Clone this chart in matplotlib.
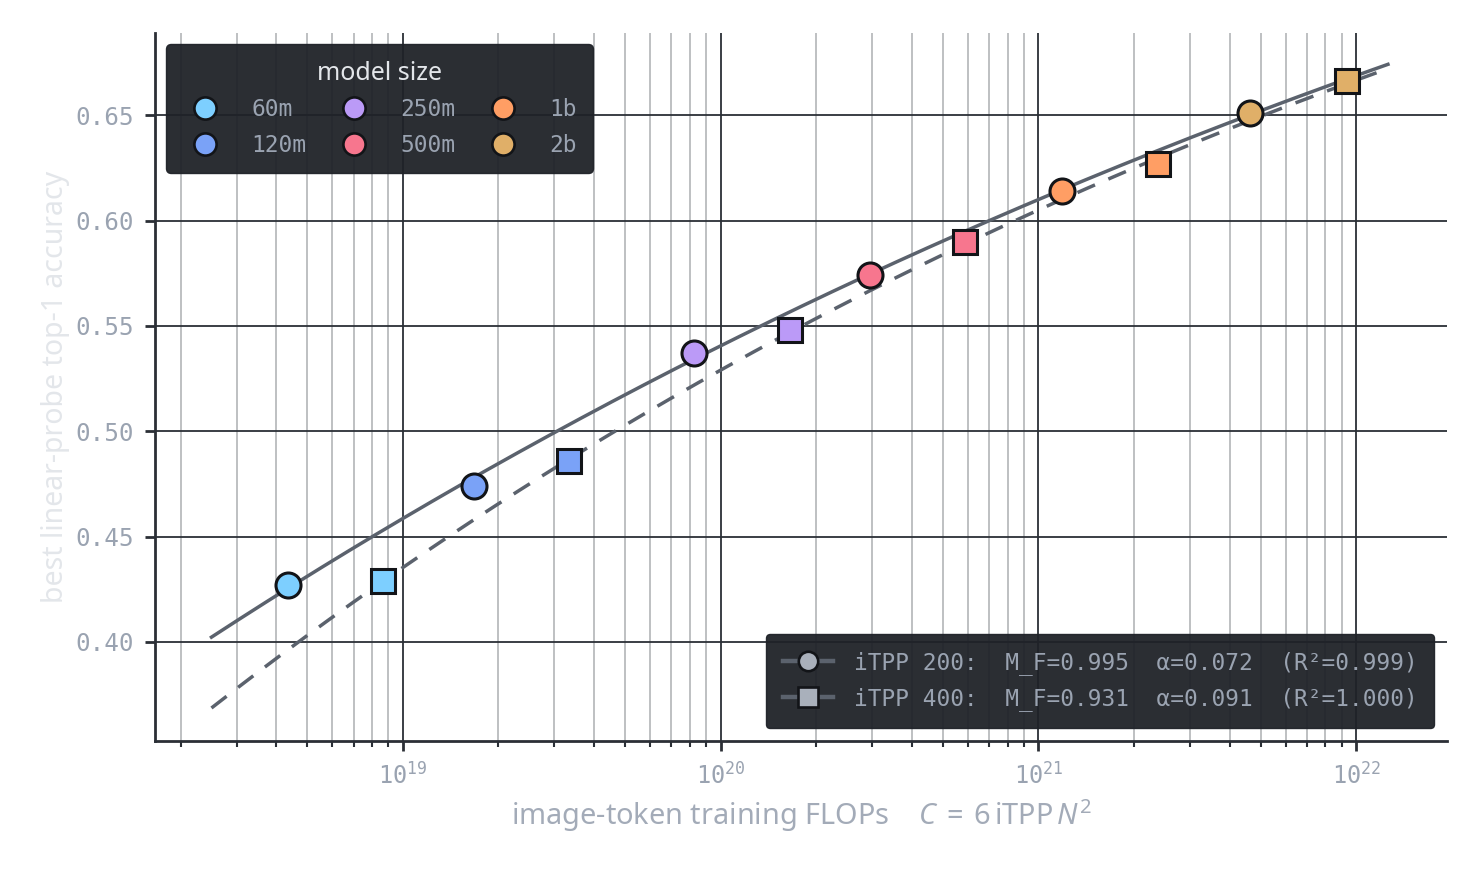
import numpy as np
import matplotlib
matplotlib.use("Agg")
import matplotlib.pyplot as plt
from matplotlib.lines import Line2D
from matplotlib.ticker import FixedLocator, LogLocator, NullFormatter, FuncFormatter

# ---- data ----
model_sizes = ["60m", "120m", "250m", "500m", "1b", "2b"]
size_colors = ["#7dcfff", "#7aa2f7", "#bb9af7", "#f7768e", "#ff9e64", "#e0af68"]

flops_200 = [4.35e18, 1.67e19, 8.22e19, 2.96e20, 1.19e21, 4.64e21]
acc_200 = [0.427, 0.474, 0.537, 0.574, 0.614, 0.651]
flops_400 = [8.66e18, 3.33e19, 1.65e20, 5.89e20, 2.38e21, 9.32e21]
acc_400 = [0.429, 0.486, 0.548, 0.590, 0.627, 0.666]

fit_MF = [0.995, 0.931]
fit_alpha = [0.072, 0.091]
fit_r2 = [0.999, 1.000]
itpp = [200, 400]

y_ticks = [0.40, 0.45, 0.50, 0.55, 0.60, 0.65]

# ---- style ----
DARK = "#2b2f36"
TICK_TXT = "#9aa3b1"
LINE = "#5b626d"
EDGE = "#121418"
LEG_BG = "#1f2228"
plt.rcParams["mathtext.fontset"] = "custom"
plt.rcParams["mathtext.rm"] = "Noto Sans"
plt.rcParams["mathtext.it"] = "Noto Sans:italic"
plt.rcParams["mathtext.tt"] = "DejaVu Sans Mono"

fig = plt.figure(figsize=(14.8, 8.8), dpi=100)
ax = fig.add_axes([0.1047, 0.158, 0.9777 - 0.1047, 0.9625 - 0.158])
ax.set_xscale("log")
ax.set_xlim(1.66e18, 1.93e22)
ax.set_ylim(0.353, 0.689)

# grid
ax.grid(True, which="major", axis="both", color=DARK, lw=1.3, zorder=0)
ax.grid(True, which="minor", axis="x", color="#b3b5b8", lw=1.2, zorder=0)
ax.set_axisbelow(True)

# fit curves
all_c = np.array(flops_200 + flops_400)
cgrid = np.logspace(np.log10(all_c.min() / 1.74), np.log10(all_c.max() * 1.35), 300)
for fl, ac, mf, al, ls in [(flops_200, acc_200, fit_MF[0], fit_alpha[0], "-"),
                          (flops_400, acc_400, fit_MF[1], fit_alpha[1], (0, (5.5, 4.2)))]:
    fl = np.array(fl); ac = np.array(ac)
    logA = np.mean(np.log(mf - ac) + al * np.log(fl))
    ax.plot(cgrid, mf - np.exp(logA) * cgrid ** (-al), color=LINE, lw=2.5, ls=ls, zorder=2)

# points
for i in range(len(model_sizes)):
    ax.plot(flops_200[i], acc_200[i], "o", ms=18, mfc=size_colors[i], mec=EDGE, mew=2.2, zorder=4)
    ax.plot(flops_400[i], acc_400[i], "s", ms=17, mfc=size_colors[i], mec=EDGE, mew=2.2, zorder=4)

# axes styling
for s in ["top", "right"]:
    ax.spines[s].set_visible(False)
for s in ["left", "bottom"]:
    ax.spines[s].set_color(DARK)
    ax.spines[s].set_linewidth(2.0)

ax.yaxis.set_major_locator(FixedLocator(y_ticks))
ax.yaxis.set_major_formatter(FuncFormatter(lambda v, p: f"{v:.2f}"))
ax.xaxis.set_major_locator(LogLocator(base=10, numticks=20))
ax.xaxis.set_minor_locator(LogLocator(base=10, subs=np.arange(2, 10), numticks=20))
ax.xaxis.set_minor_formatter(NullFormatter())
ax.xaxis.set_major_formatter(FuncFormatter(
    lambda v, p: r"$\mathtt{10}^{\mathtt{%d}}$" % int(round(np.log10(v)))))

ax.tick_params(axis="both", which="major", length=7, width=2, color=DARK,
               labelcolor=TICK_TXT, labelsize=17.5, pad=8)
ax.tick_params(axis="x", which="major", labelsize=17)
ax.tick_params(axis="x", which="minor", length=4, width=1.5, color=DARK)
for lab in ax.get_yticklabels():
    lab.set_family("DejaVu Sans Mono")

ax.set_xlabel(r"image-token training FLOPs    $C\:=\:6\,\mathrm{iTPP}\,N^2$",
              fontsize=20.8, color="#a3abb8", family="Noto Sans", labelpad=6)
ax.set_ylabel("best linear-probe top-1 accuracy", fontsize=20.5, color="#e3e6ea",
              family="Noto Sans", labelpad=4)

# legend 1: model sizes
h1 = [Line2D([], [], ls="none", marker="o", ms=16, mfc=c, mec=EDGE, mew=1.9) for c in size_colors]
leg1 = ax.legend(h1, model_sizes, loc="upper left", ncol=3, title="model size",
                 prop={"family": "DejaVu Sans Mono", "size": 16.5},
                 title_fontproperties={"family": "Noto Sans", "size": 18},
                 handlelength=2.0, handletextpad=1.0, columnspacing=1.1,
                 labelspacing=0.55, borderpad=0.7, borderaxespad=0.5,
                 facecolor=LEG_BG, edgecolor=LEG_BG, framealpha=0.95, fancybox=True)
for t in leg1.get_texts():
    t.set_color(TICK_TXT)
leg1.get_title().set_color("#e3e6ea")
ax.add_artist(leg1)

# legend 2: fits
h2 = [Line2D([], [], color=LINE, lw=3.2, marker=m, ms=ms, mfc="#a9b0bb", mec=EDGE, mew=1.9)
      for m, ms in [("o", 14), ("s", 14)]]
labs2 = [f"iTPP {itpp[i]}:  M_F={fit_MF[i]:.3f}  α={fit_alpha[i]:.3f}  (R²={fit_r2[i]:.3f})"
         for i in range(2)]
leg2 = ax.legend(h2, labs2, loc="lower right",
                 prop={"family": "DejaVu Sans Mono", "size": 16.4},
                 handlelength=2.2, handletextpad=0.9, labelspacing=0.55,
                 borderpad=0.75, borderaxespad=0.55,
                 facecolor=LEG_BG, edgecolor=LEG_BG, framealpha=0.95, fancybox=True)
for t in leg2.get_texts():
    t.set_color(TICK_TXT)

fig.savefig("out.png", dpi=100, facecolor="white")
